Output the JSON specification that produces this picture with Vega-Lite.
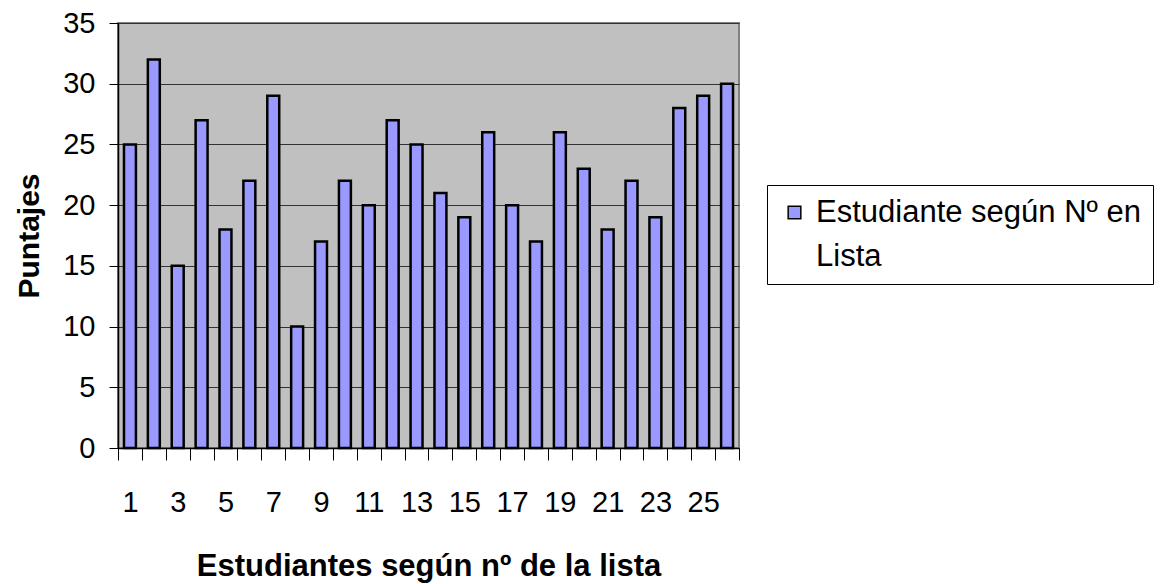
{
  "$schema": "https://vega.github.io/schema/vega-lite/v6.json",
  "autosize": {"type": "none"},
  "width": 621,
  "height": 425,
  "padding": {"left": 118, "top": 23, "right": 422, "bottom": 136},
  "background": "white",
  "config": {
    "font": "Liberation Sans",
    "view": {"fill": "#C0C0C0", "stroke": "#808080", "strokeWidth": 2},
    "style": {"guide-label": {"lineHeight": 44}}
  },
  "data": {
    "values": [
      {"n": 1, "p": 25, "s": "Estudiante según Nº en Lista"},
      {"n": 2, "p": 32, "s": "Estudiante según Nº en Lista"},
      {"n": 3, "p": 15, "s": "Estudiante según Nº en Lista"},
      {"n": 4, "p": 27, "s": "Estudiante según Nº en Lista"},
      {"n": 5, "p": 18, "s": "Estudiante según Nº en Lista"},
      {"n": 6, "p": 22, "s": "Estudiante según Nº en Lista"},
      {"n": 7, "p": 29, "s": "Estudiante según Nº en Lista"},
      {"n": 8, "p": 10, "s": "Estudiante según Nº en Lista"},
      {"n": 9, "p": 17, "s": "Estudiante según Nº en Lista"},
      {"n": 10, "p": 22, "s": "Estudiante según Nº en Lista"},
      {"n": 11, "p": 20, "s": "Estudiante según Nº en Lista"},
      {"n": 12, "p": 27, "s": "Estudiante según Nº en Lista"},
      {"n": 13, "p": 25, "s": "Estudiante según Nº en Lista"},
      {"n": 14, "p": 21, "s": "Estudiante según Nº en Lista"},
      {"n": 15, "p": 19, "s": "Estudiante según Nº en Lista"},
      {"n": 16, "p": 26, "s": "Estudiante según Nº en Lista"},
      {"n": 17, "p": 20, "s": "Estudiante según Nº en Lista"},
      {"n": 18, "p": 17, "s": "Estudiante según Nº en Lista"},
      {"n": 19, "p": 26, "s": "Estudiante según Nº en Lista"},
      {"n": 20, "p": 23, "s": "Estudiante según Nº en Lista"},
      {"n": 21, "p": 18, "s": "Estudiante según Nº en Lista"},
      {"n": 22, "p": 22, "s": "Estudiante según Nº en Lista"},
      {"n": 23, "p": 19, "s": "Estudiante según Nº en Lista"},
      {"n": 24, "p": 28, "s": "Estudiante según Nº en Lista"},
      {"n": 25, "p": 29, "s": "Estudiante según Nº en Lista"},
      {"n": 26, "p": 30, "s": "Estudiante según Nº en Lista"}
    ]
  },
  "mark": {"type": "bar", "stroke": "black", "strokeWidth": 2.5, "width": {"band": 0.5}},
  "encoding": {
    "x": {
      "field": "n",
      "type": "ordinal",
      "scale": {"paddingInner": 0, "paddingOuter": 0},
      "axis": {
        "title": "Estudiantes según nº de la lista",
        "titleFontSize": 31,
        "titleFontWeight": "bold",
        "titleColor": "black",
        "titlePadding": 34,
        "labelAngle": 0,
        "labelFontSize": 29,
        "labelColor": "black",
        "labelPadding": 28,
        "labelExpr": "datum.value % 2 == 1 ? datum.label : ''",
        "tickBand": "extent",
        "tickSize": 12,
        "tickColor": "black",
        "tickWidth": 1,
        "domainColor": "black",
        "domainWidth": 1.5,
        "grid": false
      }
    },
    "y": {
      "field": "p",
      "type": "quantitative",
      "scale": {"domain": [0, 35]},
      "axis": {
        "title": "Puntajes",
        "titleFontSize": 30,
        "titleFontWeight": "bold",
        "titleColor": "black",
        "titlePadding": 18,
        "values": [0, 5, 10, 15, 20, 25, 30, 35],
        "labelFontSize": 29,
        "labelColor": "black",
        "labelPadding": 14,
        "tickSize": 9,
        "tickColor": "black",
        "domainColor": "black",
        "domainWidth": 1.5,
        "grid": true,
        "gridColor": "#333333",
        "gridWidth": 1.2
      }
    },
    "color": {
      "field": "s",
      "type": "nominal",
      "scale": {"range": ["#9999FF"]},
      "legend": {
        "title": null,
        "orient": "none",
        "legendX": 649,
        "legendY": 162,
        "strokeColor": "black",
        "padding": 12,
        "symbolType": "square",
        "symbolSize": 160,
        "symbolStrokeColor": "black",
        "symbolStrokeWidth": 1.5,
        "symbolFillColor": "#9999FF",
        "symbolOpacity": 1,
        "labelFontSize": 31,
        "labelColor": "black",
        "labelLimit": 400,
        "labelOffset": 6,
        "labelExpr": "['Estudiante según Nº en', 'Lista']"
      }
    }
  }
}
